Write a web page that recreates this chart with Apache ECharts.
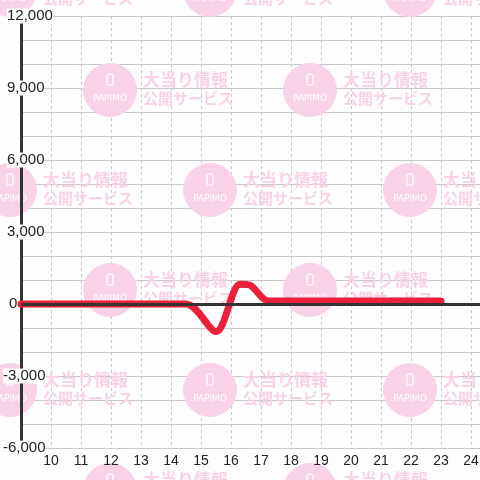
<!DOCTYPE html>
<html>
<head>
<meta charset="utf-8">
<script src="https://cdn.jsdelivr.net/npm/echarts@6/dist/echarts.min.js"></script>
<style>
html, body { margin: 0; padding: 0; background: #fdfdfd; }
#chart { width: 480px; height: 480px; }
</style>
</head>
<body>
<div id="chart"></div>
<script>
// 差枚グラフのデータ（時刻, 差枚数）
var hours = [9, 14.5, 15.5, 16.3, 16.6, 17.25, 23];
var diffCounts = [0, 0, -1150, 820, 800, 130, 130];

// 軸ラベル
var xLabels = [10, 11, 12, 13, 14, 15, 16, 17, 18, 19, 20, 21, 22, 23, 24];
var yLabels = [-6000, -3000, 0, 3000, 6000, 9000, 12000];

var BG = '#fdfdfd';
var PINK = '#f9d2e8';

/**
 * 透かし（背景ロゴ）
 */
function buildWatermark() {
	var items = [];
	var rows = [-10, 90, 190, 290, 390, 490];
	for (var r = 0; r < rows.length; r++) {
		var startX = (r % 2 == 0) ? 10 : 110;
		for (var cx = startX; cx < 520; cx += 200) {
			items.push({
				type: 'group',
				x: cx,
				y: rows[r],
				z: 1,
				children: [
					{ type: 'circle', shape: { cx: 0, cy: 0, r: 27 }, style: { fill: PINK }, z: 1 },
					{ type: 'rect', shape: { x: -3, y: -16, width: 6, height: 11, r: 1 },
						style: { fill: 'none', stroke: '#fff', lineWidth: 1.2 }, z: 1 },
					{ type: 'text', x: 0, y: 9, z: 1,
						style: { text: 'PAPIMO', fill: '#fff', font: '9px "DejaVu Sans"', align: 'center', verticalAlign: 'middle' } },
					{ type: 'text', x: 33, y: -10, z: 1,
						style: { text: '大当り情報', fill: PINK, font: 'bold 17px "Noto Sans CJK JP"', verticalAlign: 'middle' } },
					{ type: 'text', x: 33, y: 8, z: 1,
						style: { text: '公開サービス', fill: PINK, font: 'bold 15px "Noto Sans CJK JP"', verticalAlign: 'middle' } }
				]
			});
		}
	}
	return items;
}

/**
 * Y軸ラベル（左揃え、マイナス記号だけ左にはみ出す）
 */
function formatY(value) {
	if (yLabels.indexOf(value) < 0) {
		return '';
	}
	var text = value.toLocaleString('en-US');
	if (value < 0) {
		return '{t|' + text + '}';
	}
	if (value == 0) {
		return '{s0| }{t|' + text + '}';
	}
	return '{s| }{t|' + text + '}';
}

var seriesData = [];
for (var i = 0; i < hours.length; i++) {
	seriesData.push([hours[i], diffCounts[i]]);
}

var myChart = echarts.init(document.getElementById('chart'));
var option = {
	animation: false,
	backgroundColor: BG,
	grid: { left: 21, right: 0, top: 16, bottom: 32, containLabel: false, outerBoundsMode: 'none' },
	graphic: buildWatermark(),
	xAxis: [
		{
			type: 'value', min: 9, max: 24.3, interval: 1, z: 0,
			axisLine: { show: false }, axisTick: { show: false }, axisLabel: { show: false },
			splitLine: { show: true, lineStyle: { color: '#c8c8c8', type: [3, 3], width: 1 } }
		},
		{
			type: 'value', min: 9, max: 24.3, interval: 1, z: 2, position: 'bottom',
			axisLine: { show: false }, axisTick: { show: false }, splitLine: { show: false },
			axisLabel: {
				margin: 6, color: '#222', fontSize: 14, fontFamily: 'Liberation Sans',
				showMaxLabel: false,
				formatter: function (v) { return xLabels.indexOf(v) >= 0 ? String(v) : ''; }
			}
		}
	],
	yAxis: [
		{
			type: 'value', min: -6000, max: 12000, interval: 1000, z: 0,
			axisLine: { show: false }, axisTick: { show: false }, axisLabel: { show: false },
			splitLine: { show: true, lineStyle: { color: '#c8c8c8', width: 1 } }
		},
		{
			type: 'value', min: -6000, max: 12000, interval: 1000, z: 2, position: 'left',
			axisLine: { show: true, onZero: false, lineStyle: { color: '#333', width: 3 } },
			axisTick: { show: false }, splitLine: { show: false },
			axisLabel: {
				margin: 18, align: 'left', verticalAlign: 'middle',
				formatter: formatY,
				rich: {
					t: { color: '#222', fontSize: 15, fontFamily: 'Liberation Sans', backgroundColor: BG },
					s: { width: 4, fontSize: 15 },
					s0: { width: 6, fontSize: 15 }
				}
			}
		}
	],
	series: [
		{
			// ゼロライン
			type: 'line', data: [], z: 2, xAxisIndex: 0, yAxisIndex: 0,
			markLine: {
				silent: true, symbol: 'none', label: { show: false },
				lineStyle: { color: '#333', width: 3, type: 'solid' },
				data: [{ yAxis: 0 }]
			}
		},
		{
			name: '差枚', type: 'line', data: seriesData, z: 3,
			xAxisIndex: 0, yAxisIndex: 0,
			smooth: 0.3, showSymbol: false,
			lineStyle: { color: '#eb2139', width: 7, cap: 'round', join: 'round' }
		}
	]
};
myChart.setOption(option);
</script>
</body>
</html>
